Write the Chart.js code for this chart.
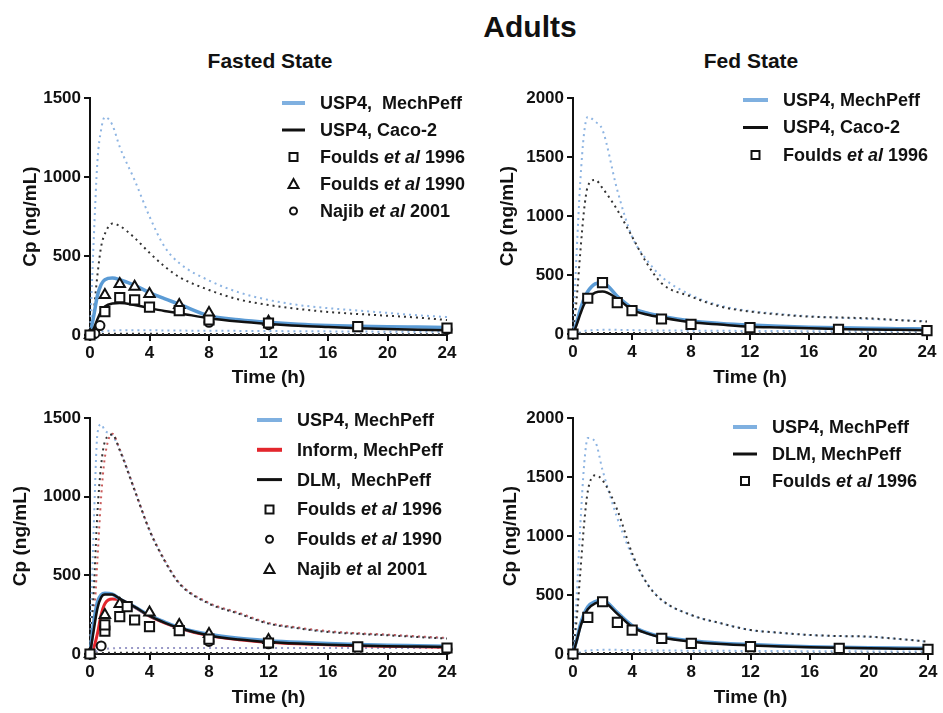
<!DOCTYPE html>
<html>
<head>
<meta charset="utf-8">
<script src="https://cdn.jsdelivr.net/npm/chart.js@4.4.1/dist/chart.umd.min.js"></script>
<style>
  body { margin: 0; background: #fff; width: 943px; height: 713px; position: relative; overflow: hidden;
         font-family: "Liberation Sans", Arial, sans-serif; color: #111; }
  .panel { position: absolute; }
  .ttl { position: absolute; font-weight: bold; text-align: center; white-space: nowrap; }
</style>
</head>
<body>
<div class="ttl" style="left:430px;width:200px;top:10px;font-size:30px;line-height:34px;">Adults</div>
<div class="ttl" style="left:170px;width:200px;top:49px;font-size:21px;line-height:24px;">Fasted State</div>
<div class="ttl" style="left:651px;width:200px;top:49px;font-size:21px;line-height:24px;">Fed State</div>

<canvas id="p1" class="panel" width="470" height="350" style="left:0;top:40px"></canvas>
<canvas id="p2" class="panel" width="473" height="350" style="left:470px;top:40px"></canvas>
<canvas id="p3" class="panel" width="470" height="353" style="left:0;top:360px"></canvas>
<canvas id="p4" class="panel" width="473" height="353" style="left:470px;top:360px"></canvas>

<script>
// simulated time grid (h)
const simTime = [0, 0.25, 0.5, 0.75, 1, 1.5, 2, 3, 4, 5, 6, 8, 10, 12, 14, 16, 18, 20, 22, 24];

// --- Fasted state (top left)
const fastUsp4Mech   = [0, 120, 250, 320, 350, 360, 350, 315, 268, 230, 195, 122, 97, 80, 68, 60, 55, 52, 50, 48];
const fastUsp4Caco   = [0, 40, 100, 150, 180, 200, 203, 190, 170, 152, 138, 106, 85, 70, 58, 50, 43, 38, 34, 30];
const fastUsp4Mech95 = [0, 600, 1100, 1300, 1380, 1330, 1190, 980, 750, 560, 455, 345, 270, 222, 190, 170, 155, 140, 125, 114];
const fastUsp4Caco95 = [0, 150, 380, 560, 640, 705, 690, 615, 520, 435, 367, 285, 225, 190, 165, 146, 133, 122, 110, 95];
const fastUsp4Mech5  = [0, 5, 15, 20, 25, 28, 30, 30, 30, 29, 28, 27, 26, 25, 24, 23, 22, 21, 20, 20];
const fastUsp4Caco5  = [0, 2, 4, 6, 7, 8, 8, 8, 8, 7, 7, 6, 6, 5, 5, 5, 4, 4, 4, 4];
const fastFoulds96T  = [0, 1, 2, 3, 4, 6, 8, 12, 18, 24];
const fastFoulds96   = [0, 148, 236, 222, 177, 154, 95, 76, 53, 44];
const fastFoulds90T  = [0, 1, 2, 3, 4, 6, 8, 12];
const fastFoulds90   = [0, 253, 323, 306, 260, 190, 139, 84];
const fastNajibT     = [0, 0.33, 0.67, 8, 12, 24];
const fastNajib      = [0, 10, 60, 80, 65, 35];

// --- Fed state (top right)
const fedUsp4Mech   = [0, 100, 210, 300, 360, 425, 435, 320, 222, 178, 150, 110, 90, 76, 66, 58, 52, 48, 45, 42];
const fedUsp4Caco   = [0, 80, 170, 250, 300, 350, 360, 300, 205, 165, 140, 100, 80, 62, 55, 48, 43, 38, 35, 32];
const fedUsp4Mech95 = [0, 700, 1300, 1700, 1840, 1800, 1730, 1220, 826, 628, 486, 330, 240, 195, 170, 150, 138, 128, 118, 108];
const fedUsp4Caco95 = [0, 300, 700, 1050, 1250, 1306, 1236, 1052, 826, 600, 430, 317, 232, 190, 165, 147, 140, 133, 118, 105];
const fedUsp4Mech5  = [0, 5, 15, 25, 30, 33, 35, 35, 33, 31, 30, 28, 27, 26, 25, 24, 23, 22, 21, 20];
const fedUsp4Caco5  = [0, 2, 4, 6, 7, 8, 8, 8, 8, 7, 7, 6, 6, 5, 5, 5, 4, 4, 4, 4];
const fedFoulds96T  = [0, 1, 2, 3, 4, 6, 8, 12, 18, 24];
const fedFoulds96   = [0, 303, 435, 266, 198, 127, 82, 54, 40, 28];

// --- Fasted, formulation models (bottom left)
const fmUsp4     = [0, 200, 330, 375, 386, 380, 350, 300, 245, 205, 168, 125, 100, 85, 74, 66, 60, 56, 53, 50];
const fmInform   = [0, 40, 130, 250, 320, 350, 345, 298, 240, 198, 164, 117, 91, 75, 65, 58, 53, 49, 46, 43];
const fmDlm      = [0, 150, 290, 360, 378, 378, 352, 300, 242, 200, 165, 118, 92, 76, 66, 59, 54, 50, 47, 44];
const fmUsp495   = [0, 800, 1400, 1460, 1420, 1390, 1300, 1044, 789, 598, 450, 322, 259, 195, 165, 142, 130, 121, 110, 100];
const fmInform95 = [0, 200, 600, 1000, 1250, 1400, 1300, 1044, 789, 600, 452, 325, 262, 198, 168, 145, 132, 123, 112, 102];
const fmDlm95    = [0, 400, 900, 1200, 1350, 1395, 1295, 1040, 785, 595, 448, 320, 256, 193, 163, 140, 128, 119, 108, 98];
const fmUsp45    = [0, 8, 20, 28, 32, 36, 38, 38, 38, 38, 38, 38, 38, 38, 38, 38, 38, 38, 38, 38];
const fmDlm5     = [0, 2, 4, 6, 7, 8, 8, 8, 8, 7, 7, 6, 6, 5, 5, 5, 4, 4, 4, 4];
const fmFoulds96T = [0, 1, 1, 2, 2.5, 3, 4, 6, 8, 12, 18, 24];
const fmFoulds96  = [0, 146, 185, 237, 301, 216, 174, 148, 95, 70, 45, 38];
const fmFoulds90T = [0, 0.75, 8, 12, 24];
const fmFoulds90  = [0, 51, 80, 65, 30];
const fmNajibT    = [0, 1, 2, 4, 6, 8, 12];
const fmNajib     = [0, 248, 318, 263, 184, 127, 89];

// --- Fed, formulation models (bottom right)
const ffUsp4     = [0, 120, 250, 340, 400, 445, 455, 350, 240, 180, 147, 112, 92, 80, 70, 62, 57, 53, 50, 48];
const ffDlm      = [0, 110, 230, 320, 380, 430, 440, 340, 230, 175, 140, 104, 84, 72, 64, 57, 52, 48, 45, 42];
const ffUsp495   = [0, 500, 1100, 1600, 1830, 1800, 1557, 1150, 830, 598, 457, 330, 260, 203, 180, 161, 152, 147, 128, 104];
const ffDlm95    = [0, 300, 700, 1100, 1380, 1515, 1472, 1219, 852, 598, 457, 330, 260, 203, 180, 161, 152, 147, 128, 104];
const ffUsp45    = [0, 5, 15, 25, 30, 33, 35, 35, 33, 31, 30, 28, 27, 26, 25, 24, 23, 22, 21, 20];
const ffDlm5     = [0, 2, 4, 6, 7, 8, 8, 8, 8, 7, 7, 6, 6, 5, 5, 5, 4, 4, 4, 4];
const ffFoulds96T = [0, 1, 2, 3, 4, 6, 8, 12, 18, 24];
const ffFoulds96  = [0, 310, 443, 268, 203, 133, 90, 62, 48, 40];

const FONT = '"Liberation Sans", Arial, sans-serif';
const INK = '#111';
const BLUE = '#5b9bd5';
const BLUE_DOT = '#8db4e2';
const BLACK = '#111';
const BLACK_DOT = '#333';
const RED = '#e3262d';
const RED_DOT = '#c85a5a';

Chart.defaults.font.family = FONT;
Chart.defaults.font.weight = 'bold';
Chart.defaults.color = INK;

const pts = (t, v) => t.map((x, i) => ({ x: x, y: v[i] }));

function curve(v, color, width, order) {
  return { data: pts(simTime, v), showLine: true, borderColor: color, borderWidth: width,
           pointRadius: 0, cubicInterpolationMode: 'monotone', order: order, clip: false };
}
function dotted(v, color) {
  const d = curve(v, color, 2, 4);
  d.borderDash = [2, 4];
  return d;
}
function marks(t, v, style, r) {
  return { data: pts(t, v), showLine: false, pointStyle: style, pointRadius: r, pointHoverRadius: r,
           pointBorderColor: INK, pointBackgroundColor: '#fff', pointBorderWidth: 2, order: 0, clip: false };
}

// legend drawn by hand so "et al" can be italic
const panelLegend = {
  id: 'panelLegend',
  afterDraw(chart, args, o) {
    const ctx = chart.ctx;
    ctx.save();
    o.items.forEach((it, i) => {
      const y = o.y0 + i * o.dy;
      const cx = (o.x0 + o.x1) / 2;
      ctx.strokeStyle = INK;
      ctx.fillStyle = '#fff';
      ctx.lineWidth = 2;
      if (it.kind === 'line') {
        ctx.strokeStyle = it.color;
        ctx.lineWidth = it.width;
        ctx.beginPath(); ctx.moveTo(o.x0, y); ctx.lineTo(o.x1, y); ctx.stroke();
      } else if (it.kind === 'rect') {
        ctx.beginPath(); ctx.rect(cx - 4, y - 4, 8, 8); ctx.fill(); ctx.stroke();
      } else if (it.kind === 'triangle') {
        ctx.beginPath(); ctx.moveTo(cx, y - 5); ctx.lineTo(cx + 5, y + 4); ctx.lineTo(cx - 5, y + 4);
        ctx.closePath(); ctx.fill(); ctx.stroke();
      } else {
        ctx.beginPath(); ctx.arc(cx, y, 3.5, 0, Math.PI * 2); ctx.fill(); ctx.stroke();
      }
      ctx.fillStyle = INK;
      ctx.textBaseline = 'middle';
      let x = o.tx;
      it.text.forEach(([s, ital]) => {
        ctx.font = (ital ? 'italic ' : '') + 'bold 18px ' + FONT;
        ctx.fillText(s, x, y + 1);
        x += ctx.measureText(s).width;
      });
    });
    ctx.restore();
  }
};

function scales(yMax, yW, xH, yPad, xPad) {
  const tickFont = { size: 17, weight: 'bold' };
  const titleFont = { size: 19, weight: 'bold' };
  return {
    x: {
      type: 'linear', min: 0, max: 24,
      ticks: { stepSize: 4, font: tickFont, color: INK, padding: 2, autoSkip: false, maxRotation: 0,
               callback: v => String(v) },
      grid: { drawOnChartArea: false, tickLength: 6, color: INK, lineWidth: 2 },
      border: { color: INK, width: 2 },
      title: { display: true, text: 'Time (h)', font: titleFont, color: INK, padding: { top: 0, bottom: xPad } },
      afterFit: s => { s.height = xH; }
    },
    y: {
      min: 0, max: yMax,
      ticks: { stepSize: 500, font: tickFont, color: INK, padding: 3, callback: v => String(v) },
      grid: { drawOnChartArea: false, tickLength: 6, color: INK, lineWidth: 2 },
      border: { color: INK, width: 2 },
      title: { display: true, text: 'Cp (ng/mL)', font: titleFont, color: INK, padding: { top: yPad, bottom: 0 } },
      afterFit: s => { s.width = yW; }
    }
  };
}

function panel(id, datasets, sc, padRight, legend) {
  new Chart(document.getElementById(id), {
    type: 'scatter',
    data: { datasets: datasets },
    options: {
      responsive: false,
      animation: false,
      layout: { padding: { top: 58, right: padRight, left: 0, bottom: 0 } },
      scales: sc,
      plugins: { legend: { display: false }, tooltip: { enabled: false }, panelLegend: legend }
    },
    plugins: [panelLegend]
  });
}

const lineItem = (label, color, width) => ({ kind: 'line', color: color, width: width, text: [[label, false]] });
const etAl = (kind, name, year) => ({ kind: kind, text: [[name + ' ', false], ['et al', true], [' ' + year, false]] });

panel('p1', [
  marks(fastFoulds96T, fastFoulds96, 'rect', 6.5),
  marks(fastFoulds90T, fastFoulds90, 'triangle', 6),
  marks(fastNajibT, fastNajib, 'circle', 4.5),
  curve(fastUsp4Caco, BLACK, 2.5, 1),
  curve(fastUsp4Mech, BLUE, 3.5, 2),
  dotted(fastUsp4Caco95, BLACK_DOT),
  dotted(fastUsp4Mech95, BLUE_DOT),
  dotted(fastUsp4Caco5, BLACK_DOT),
  dotted(fastUsp4Mech5, BLUE_DOT)
], scales(1500, 90, 55, 19, 1), 23, {
  x0: 282, x1: 305, tx: 320, y0: 63, dy: 27,
  items: [lineItem('USP4,  MechPeff', '#7fb0e0', 4), lineItem('USP4, Caco-2', BLACK, 3),
          etAl('rect', 'Foulds', '1996'), etAl('triangle', 'Foulds', '1990'), etAl('circle', 'Najib', '2001')]
});

panel('p2', [
  marks(fedFoulds96T, fedFoulds96, 'rect', 6.5),
  curve(fedUsp4Caco, BLACK, 2.5, 1),
  curve(fedUsp4Mech, BLUE, 3.5, 2),
  dotted(fedUsp4Caco95, BLACK_DOT),
  dotted(fedUsp4Mech95, BLUE_DOT),
  dotted(fedUsp4Caco5, BLACK_DOT),
  dotted(fedUsp4Mech5, BLUE_DOT)
], scales(2000, 103, 56, 26, 1), 16, {
  x0: 273, x1: 298, tx: 313, y0: 60, dy: 27.5,
  items: [lineItem('USP4, MechPeff', '#7fb0e0', 4), lineItem('USP4, Caco-2', BLACK, 3),
          etAl('rect', 'Foulds', '1996')]
});

panel('p3', [
  marks(fmFoulds96T, fmFoulds96, 'rect', 6.5),
  marks(fmFoulds90T, fmFoulds90, 'circle', 4.5),
  marks(fmNajibT, fmNajib, 'triangle', 6),
  curve(fmDlm, BLACK, 2.5, 1),
  curve(fmUsp4, BLUE, 3.5, 2),
  curve(fmInform, RED, 3, 3),
  dotted(fmDlm95, BLACK_DOT),
  dotted(fmInform95, RED_DOT),
  dotted(fmUsp495, BLUE_DOT),
  dotted(fmDlm5, BLACK_DOT),
  dotted(fmUsp45, '#9a9ac8')
], scales(1500, 90, 59, 9, 4), 23, {
  x0: 257, x1: 282, tx: 297, y0: 60, dy: 29.8,
  items: [lineItem('USP4, MechPeff', '#7fb0e0', 4), lineItem('Inform, MechPeff', RED, 4),
          lineItem('DLM,  MechPeff', BLACK, 3),
          etAl('rect', 'Foulds', '1996'), etAl('circle', 'Foulds', '1990'),
          { kind: 'triangle', text: [['Najib ', false], ['et', true], [' al 2001', false]] }]
});

panel('p4', [
  marks(ffFoulds96T, ffFoulds96, 'rect', 6.5),
  curve(ffDlm, BLACK, 2.5, 1),
  curve(ffUsp4, BLUE, 3.5, 2),
  dotted(ffDlm95, BLACK_DOT),
  dotted(ffUsp495, BLUE_DOT),
  dotted(ffDlm5, BLACK_DOT),
  dotted(ffUsp45, BLUE_DOT)
], scales(2000, 103, 59, 29, 4), 15, {
  x0: 263, x1: 287, tx: 302, y0: 67, dy: 27,
  items: [lineItem('USP4, MechPeff', '#7fb0e0', 4), lineItem('DLM, MechPeff', BLACK, 3),
          etAl('rect', 'Foulds', '1996')]
});
</script>
</body>
</html>
